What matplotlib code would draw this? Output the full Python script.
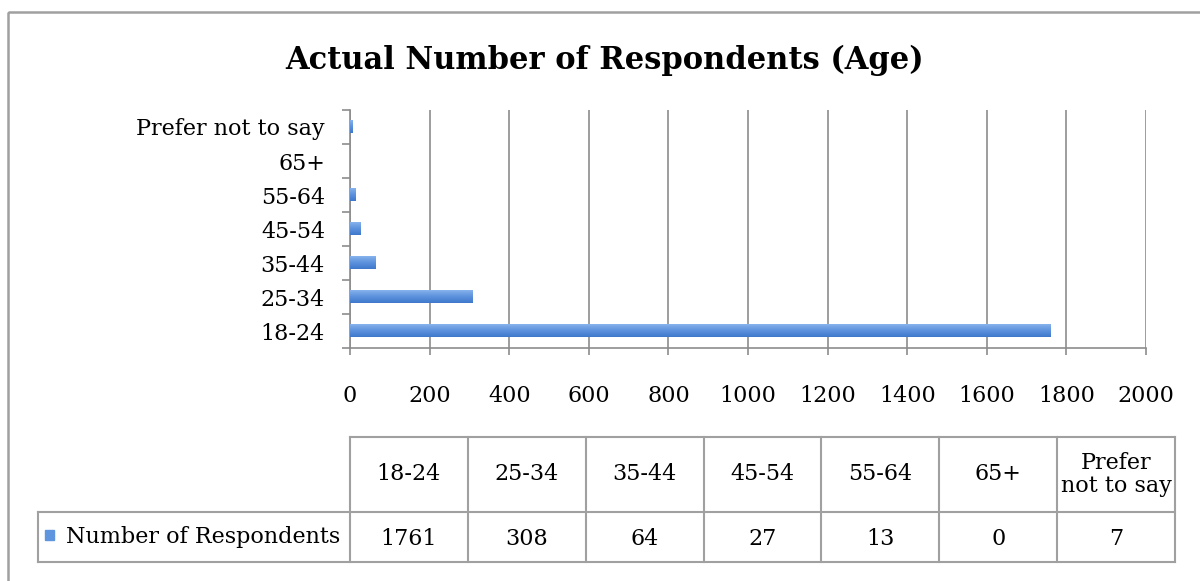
import numpy as np
import matplotlib
matplotlib.use("Agg")
import matplotlib.pyplot as plt
from matplotlib.patches import Rectangle
from matplotlib.colors import LinearSegmentedColormap

# data
categories = ["18-24", "25-34", "35-44", "45-54", "55-64", "65+", "Prefer not to say"]
table_heads = ["18-24", "25-34", "35-44", "45-54", "55-64", "65+", "Prefer\nnot to say"]
values = [1761, 308, 64, 27, 13, 0, 7]
series_name = "Number of Respondents"
title = "Actual Number of Respondents (Age)"
xticks = list(range(0, 2001, 200))

W, H = 1200, 581
plt.rcParams["font.family"] = ["DejaVu Serif"]
fig = plt.figure(figsize=(W / 100, H / 100), dpi=100)

BAR = "#5f94de"
GRID = "#8c8c8c"
FS = 16
bar_cmap = LinearSegmentedColormap.from_list("bar", ["#3f78cc", "#5f94de", "#8db7ef"])


def px(x0, y0, x1, y1):
    # pixel box -> figure fraction
    return [x0 / W, 1 - y1 / H, (x1 - x0) / W, (y1 - y0) / H]


# overlay for frame, title and table
ov = fig.add_axes([0, 0, 1, 1])
ov.set_xlim(0, W)
ov.set_ylim(H, 0)
ov.axis("off")
ov.add_patch(Rectangle((8, 12), W + 20, H + 20, fill=False, ec="#a0a0a0", lw=1.8))
ov.text(605, 60, title, ha="center", va="center", fontsize=22, fontweight="bold")

# bar chart
ax = fig.add_axes(px(350, 110, 1146, 348))
y = np.arange(len(categories))
bars = ax.barh(y + 0.02, values, height=0.4, color=BAR, lw=0, zorder=3)
grad = np.linspace(0, 1, 50).reshape(-1, 1)
for b in bars:
    if b.get_width() <= 0:
        continue
    x0, y0 = b.get_x(), b.get_y()
    im = ax.imshow(grad, extent=[x0, x0 + b.get_width(), y0, y0 + b.get_height()],
                   origin="lower", aspect="auto", cmap=bar_cmap, zorder=4)
    im.set_clip_path(b)
ax.set_xlim(0, 2000)
ax.set_ylim(-0.5, len(categories) - 0.5)
ax.set_xticks(xticks)
ax.set_yticks(y)
ax.set_yticklabels(categories)
ax.set_yticks(np.arange(-0.5, len(categories)), minor=True)
ax.tick_params(axis="y", which="major", length=0, pad=18, labelsize=FS)
ax.tick_params(axis="y", which="minor", length=6, color=GRID, width=1.2)
ax.tick_params(axis="x", length=5, color=GRID, width=1.2, pad=22, labelsize=FS)
ax.grid(axis="x", color=GRID, lw=1.2, zorder=0)
for s in ["top", "right"]:
    ax.spines[s].set_visible(False)
for s in ["left", "bottom"]:
    ax.spines[s].set_color(GRID)
    ax.spines[s].set_linewidth(1.2)

# data table under the chart
tl, tr = 350, 1175
top, mid, bot = 437, 512, 562
cw = (tr - tl) / len(categories)
lc = "#a0a0a0"
ov.plot([tl, tr], [top, top], color=lc, lw=1.5)
ov.plot([38, tr], [mid, mid], color=lc, lw=1.5)
ov.plot([38, tr], [bot, bot], color=lc, lw=1.5)
ov.plot([38, 38], [mid, bot], color=lc, lw=1.5)
for i in range(len(categories) + 1):
    xx = tl + i * cw
    ov.plot([xx, xx], [top, bot], color=lc, lw=1.5)
for i, (h, v) in enumerate(zip(table_heads, values)):
    cx = tl + (i + 0.5) * cw
    ov.text(cx, (top + mid) / 2, h, ha="center", va="center", fontsize=FS, linespacing=1.05)
    ov.text(cx, (mid + bot) / 2 + 2, str(v), ha="center", va="center", fontsize=FS)
ov.add_patch(Rectangle((45, 530), 9, 10, color=BAR))
ov.text(66, (mid + bot) / 2, series_name, ha="left", va="center", fontsize=FS)

fig.savefig("out.png", dpi=100)
